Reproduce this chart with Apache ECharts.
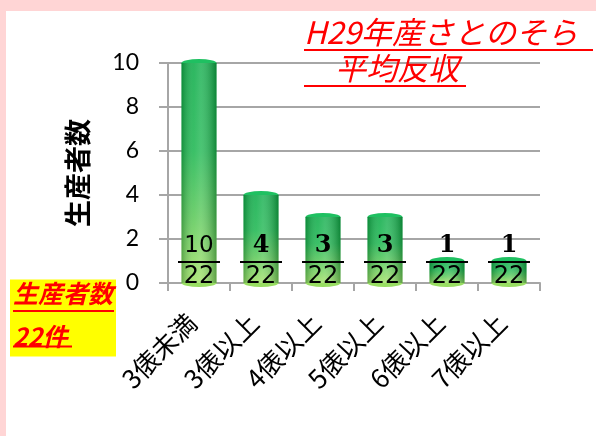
<!DOCTYPE html>
<html>
<head>
<meta charset="UTF-8">
<title>生産者数</title>
<script src="https://cdn.jsdelivr.net/npm/echarts@6/dist/echarts.min.js"></script>
<style>
  html, body { margin: 0; padding: 0; background: #fff; }
  #main { width: 596px; height: 436px; }
</style>
</head>
<body>
<div id="main"></div>
<script type="text/javascript">
// カテゴリと値
var categories = ['3俵未満', '3俵以上', '4俵以上', '5俵以上', '6俵以上', '7俵以上'];
var counts = [10, 4, 3, 3, 1, 1];
var total = 22;
var yTicks = [0, 2, 4, 6, 8, 10];

var myChart = echarts.init(document.getElementById('main'));

var pink = '#ffd5d5';
var cjk = '"Noto Sans CJK JP", sans-serif';

// 分数ラベル（分子 / 線 / 分母）
function fracLabel(p) {
	var v = counts[p.dataIndex];
	var num = v >= 10 ? '{nt|' + v + '}' : '{nb|' + v + '}';
	return num + '\n{l| }\n{d|' + total + '}';
}

var option = {
	backgroundColor: '#fff',
	animation: false,
	graphic: [
		{ type: 'rect', shape: { x: 0, y: 0, width: 596, height: 11 }, style: { fill: pink }, z: 0 },
		{ type: 'rect', shape: { x: 0, y: 0, width: 6, height: 436 }, style: { fill: pink }, z: 0 }
	],
	title: [
		{
			left: 304,
			top: 16,
			padding: 0,
			text: '{a|H29年産さとのそら}\n{u|}\n{a|　平均反収}\n{u2|}',
			textStyle: {
				rich: {
					a: { fontFamily: cjk, fontSize: 31, fontStyle: 'italic', fontWeight: 'normal', color: '#ff0000', lineHeight: 32 },
					u: { width: 289, height: 2, backgroundColor: '#ff0000', lineHeight: 4 },
					u2: { width: 162, height: 2, backgroundColor: '#ff0000', lineHeight: 4 }
				}
			}
		},
		{
			left: 10,
			top: 276,
			padding: [1, 2, 1, 3],
			backgroundColor: '#ffff00',
			text: '{s|生産者数}\n{u|}\n{b|22件}\n{u2|}',
			textStyle: {
				rich: {
					s: { fontFamily: cjk, fontSize: 25, fontStyle: 'italic', fontWeight: 'bold', color: '#ff0000', lineHeight: 32 },
					b: { fontFamily: cjk, fontSize: 25, fontStyle: 'italic', fontWeight: 'bold', color: '#ff0000', lineHeight: 32, padding: [14, 0, 0, 0] },
					u: { width: 101, height: 2, backgroundColor: '#ff0000', lineHeight: 4 },
					u2: { width: 59, height: 2, backgroundColor: '#ff0000', lineHeight: 3 }
				}
			}
		}
	],
	grid: {
		left: 168,
		right: 56,
		top: 63,
		bottom: 153
	},
	xAxis: {
		type: 'category',
		data: categories,
		axisLine: { lineStyle: { color: '#a6a6a6', width: 2 } },
		axisTick: { show: true, length: 8, lineStyle: { color: '#a6a6a6', width: 2 } },
		axisLabel: {
			rotate: 45,
			margin: 28,
			padding: [0, 10, 0, 0],
			fontFamily: cjk,
			fontSize: 26,
			color: '#000',
			interval: 0
		}
	},
	yAxis: {
		type: 'value',
		min: 0,
		max: 10,
		interval: 2,
		name: '生産者数',
		nameLocation: 'middle',
		nameRotate: 90,
		nameGap: 77,
		nameTextStyle: { fontFamily: cjk, fontSize: 27, fontWeight: 'bold', color: '#000' },
		axisLine: { show: true, lineStyle: { color: '#a6a6a6', width: 2 } },
		axisTick: { show: true, length: 9, lineStyle: { color: '#a6a6a6', width: 2 } },
		axisLabel: {
			margin: 29,
			fontFamily: 'Lato, sans-serif',
			fontSize: 23,
			color: '#000',
			formatter: function (v) { return yTicks.indexOf(v) >= 0 ? String(v) : ''; }
		},
		splitLine: { lineStyle: { color: '#a6a6a6', width: 2 } }
	},
	series: [
		{
			// 円柱の上下の楕円
			type: 'pictorialBar',
			data: counts,
			symbol: 'circle',
			symbolSize: [35, 8],
			symbolPosition: 'end',
			symbolOffset: [0, '-50%'],
			itemStyle: { color: '#1fc061' },
			z: 1,
			silent: true
		},
		{
			type: 'pictorialBar',
			data: counts,
			symbol: 'circle',
			symbolSize: [35, 8],
			symbolPosition: 'start',
			symbolOffset: [0, '50%'],
			itemStyle: { color: '#98dd62' },
			z: 1,
			silent: true
		},
		{
			type: 'bar',
			data: counts,
			barWidth: 35,
			z: 2,
			itemStyle: {
				color: new echarts.graphic.LinearGradient(0, 0, 0, 1, [
					{ offset: 0, color: '#10ad4b' },
					{ offset: 0.4, color: '#1fb752' },
					{ offset: 0.7, color: '#5cc95a' },
					{ offset: 1, color: '#a2e167' }
				])
			}
		},
		{
			// 円柱の陰影
			type: 'bar',
			data: counts,
			barWidth: 35,
			barGap: '-100%',
			z: 3,
			itemStyle: {
				color: new echarts.graphic.LinearGradient(0, 0, 1, 0, [
					{ offset: 0, color: 'rgba(0,70,20,0.35)' },
					{ offset: 0.35, color: 'rgba(255,255,255,0.12)' },
					{ offset: 0.55, color: 'rgba(255,255,255,0.2)' },
					{ offset: 1, color: 'rgba(0,70,20,0.42)' }
				])
			},
			label: {
				show: true,
				position: 'insideBottom',
				distance: 0,
				offset: [0, 5],
				formatter: fracLabel,
				rich: {
					nt: { fontFamily: '"DejaVu Sans"', fontSize: 23, lineHeight: 24, color: '#000' },
					nb: { fontFamily: '"DejaVu Serif"', fontWeight: 'bold', fontSize: 24, lineHeight: 24, color: '#000' },
					l: { width: 42, height: 2, backgroundColor: '#000', lineHeight: 8 },
					d: { fontFamily: '"DejaVu Sans"', fontSize: 24, lineHeight: 22, color: '#000' }
				}
			}
		}
	]
};

myChart.setOption(option);
</script>
</body>
</html>
